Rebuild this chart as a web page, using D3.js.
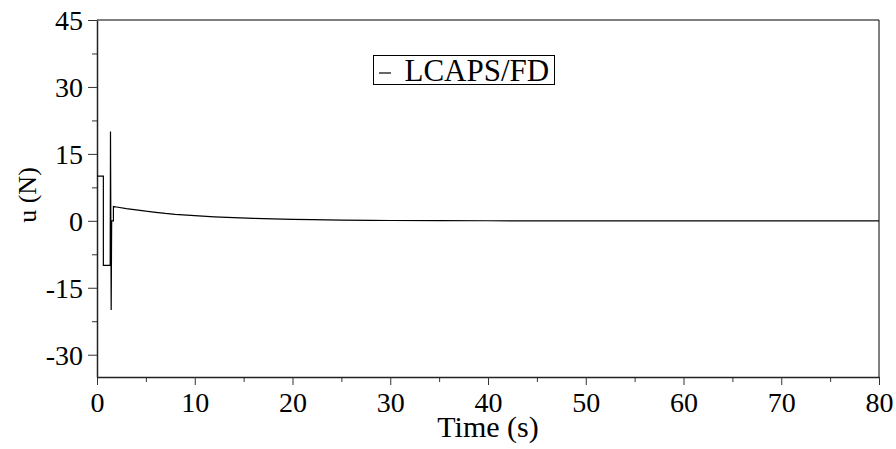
<!DOCTYPE html>
<html>
<head>
<meta charset="utf-8">
<script src="https://cdn.jsdelivr.net/npm/d3@7"></script>
<style>
  body { margin: 0; background: #fff; }
</style>
</head>
<body>
<div id="chart"></div>
<script>
// control input u(t)
const time = [0, 0.65, 0.65, 1.35, 1.38, 1.45, 1.5, 1.68, 1.68, 2, 3, 4, 5, 6, 7, 8, 10, 12, 14, 16, 18, 20, 22, 25, 28, 30, 35, 40, 50, 60, 70, 80];
const force = [10, 10, -10, -10, 20, -20, 0, 0, 3.2, 3.1, 2.75, 2.45, 2.15, 1.9, 1.65, 1.45, 1.15, 0.9, 0.7, 0.55, 0.42, 0.32, 0.25, 0.16, 0.1, 0.07, 0.03, 0.01, 0, 0, 0, 0];
const seriesName = 'LCAPS/FD';
const xTicks = [0, 10, 20, 30, 40, 50, 60, 70, 80];
const yTicks = [-30, -15, 0, 15, 30, 45];

const width = 896;
const height = 449;
const margin = { top: 20, right: 17, bottom: 72, left: 97 };
const serif = '"Liberation Serif", "Times New Roman", serif';

const data = time.map((t, i) => ({ t, u: force[i] }));

const x = d3.scaleLinear()
  .domain([0, 80])
  .range([margin.left, width - margin.right]);

const y = d3.scaleLinear()
  .domain([-35, 45])
  .range([height - margin.bottom, margin.top]);

const svg = d3.select('#chart')
  .append('svg')
  .attr('width', width)
  .attr('height', height)
  .attr('font-family', serif);

// frame top and right
svg.append('path')
  .attr('d', `M${x(0)},${y(45)}H${x(80)}V${y(-35)}`)
  .attr('fill', 'none')
  .attr('stroke', '#000')
  .attr('stroke-width', 1);

// minor ticks
svg.append('g')
  .attr('transform', `translate(0,${y(-35)})`)
  .call(d3.axisBottom(x).tickValues(d3.range(5, 80, 10)).tickSize(5).tickFormat('').tickSizeOuter(0))
  .call((g) => g.select('.domain').remove())
  .call((g) => g.selectAll('line').attr('stroke', '#333'));

svg.append('g')
  .attr('transform', `translate(${x(0)},0)`)
  .call(d3.axisLeft(y).tickValues([-22.5, -7.5, 7.5, 22.5, 37.5]).tickSize(5).tickFormat('').tickSizeOuter(0))
  .call((g) => g.select('.domain').remove())
  .call((g) => g.selectAll('line').attr('stroke', '#333'));

const xAxis = (g) => g
  .attr('transform', `translate(0,${y(-35)})`)
  .call(d3.axisBottom(x).tickValues(xTicks).tickSize(8).tickFormat((d) => String(d)).tickSizeOuter(0))
  .call((g) => g.select('.domain').attr('stroke', '#222').attr('stroke-width', 1.5))
  .call((g) => g.selectAll('.tick line').attr('stroke', '#333'))
  .call((g) => g.selectAll('.tick text')
    .attr('y', 35)
    .attr('dy', null)
    .attr('fill', '#000')
    .attr('font-family', serif)
    .attr('font-size', 28));

const yAxis = (g) => g
  .attr('transform', `translate(${x(0)},0)`)
  .call(d3.axisLeft(y).tickValues(yTicks).tickSize(9).tickFormat((d) => String(d)).tickSizeOuter(0))
  .call((g) => g.select('.domain').attr('stroke', '#222').attr('stroke-width', 1.5))
  .call((g) => g.selectAll('.tick line').attr('stroke', '#333'))
  .call((g) => g.selectAll('.tick text')
    .attr('x', -14)
    .attr('dy', '0.34em')
    .attr('fill', '#000')
    .attr('font-family', serif)
    .attr('font-size', 28));

svg.append('g').call(xAxis);
svg.append('g').call(yAxis);

// axis titles
svg.append('text')
  .attr('x', (x(0) + x(80)) / 2)
  .attr('y', 437)
  .attr('text-anchor', 'middle')
  .attr('font-size', 30)
  .text('Time (s)');

svg.append('text')
  .attr('transform', 'translate(36,195) rotate(-90)')
  .attr('text-anchor', 'middle')
  .attr('font-size', 26)
  .text('u (N)');

// series
const line = d3.line()
  .x((d) => x(d.t))
  .y((d) => y(d.u));

svg.append('path')
  .datum(data)
  .attr('fill', 'none')
  .attr('stroke', '#000')
  .attr('stroke-width', 1.2)
  .attr('d', line);

// legend
const legend = svg.append('g').attr('transform', 'translate(373.5,55.5)');
legend.append('rect')
  .attr('width', 181)
  .attr('height', 29)
  .attr('fill', '#fff')
  .attr('stroke', '#000')
  .attr('stroke-width', 1);
legend.append('line')
  .attr('x1', 5.5).attr('x2', 17.5)
  .attr('y1', 17.5).attr('y2', 17.5)
  .attr('stroke', '#000')
  .attr('stroke-width', 1.2);
legend.append('text')
  .attr('x', 31)
  .attr('y', 25)
  .attr('font-size', 31)
  .text(seriesName);
</script>
</body>
</html>
